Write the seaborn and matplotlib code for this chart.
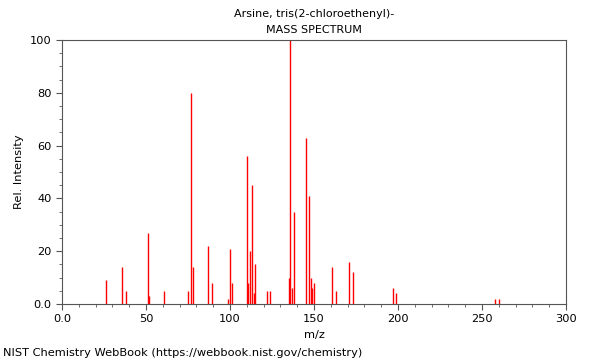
import matplotlib
matplotlib.use("Agg")
import matplotlib.pyplot as plt
from matplotlib.ticker import MultipleLocator
import seaborn as sns

# Espectro de masas (m/z vs intensidad relativa)
mz = [26, 36, 38, 51, 52, 61, 75, 77, 78, 87, 89, 99, 100, 101,
      110, 111, 112, 113, 114, 115, 122, 124, 135, 136, 137, 138,
      145, 147, 148, 149, 150, 161, 163, 171, 173, 197, 199, 258, 260]
intensidad = [9, 14, 5, 27, 3, 5, 5, 80, 14, 22, 8, 2, 21, 8,
              56, 8, 20, 45, 4, 15, 5, 5, 10, 100, 6, 35,
              63, 41, 10, 6, 8, 14, 5, 16, 12, 6, 4, 2, 2]

titulo = "Arsine, tris(2-chloroethenyl)-"
subtitulo = "MASS SPECTRUM"
pie = "NIST Chemistry WebBook (https://webbook.nist.gov/chemistry)"

sns.set_style("ticks")
plt.rcParams["font.family"] = ["DejaVu Sans"]
plt.rcParams["text.color"] = "black"
plt.rcParams["axes.labelcolor"] = "black"
plt.rcParams["xtick.labelcolor"] = "black"
plt.rcParams["ytick.labelcolor"] = "black"

fig = plt.figure(figsize=(6, 3.6), dpi=100)
ax = fig.add_axes([62 / 600, 56 / 360, 504 / 600, 264 / 360])

ax.vlines(mz, 0, intensidad, color="#ff0000", linewidth=1)

ax.set_xlim(0, 300)
ax.set_ylim(0, 100)
ax.xaxis.set_major_locator(MultipleLocator(50))
ax.xaxis.set_minor_locator(MultipleLocator(10))
ax.yaxis.set_major_locator(MultipleLocator(20))
ax.yaxis.set_minor_locator(MultipleLocator(5))
ax.set_xticks([0, 50, 100, 150, 200, 250, 300],
              ["0.0", "50", "100", "150", "200", "250", "300"])
ax.set_yticks([0, 20, 40, 60, 80, 100],
              ["0.0", "20", "40", "60", "80", "100"])
ax.tick_params(which="major", length=4, width=0.8, labelsize=8.2, color="#555555")
ax.tick_params(which="minor", length=2, width=0.6, color="#555555")
for s in ax.spines.values():
    s.set_visible(True)
    s.set_color("#555555")
    s.set_linewidth(0.8)

ax.set_xlabel("m/z", fontsize=8.2)
ax.set_ylabel("Rel. Intensity", fontsize=8.2)

fig.text(314 / 600, 1 - 14 / 360, titulo, ha="center", va="center", fontsize=8)
fig.text(314 / 600, 1 - 30 / 360, subtitulo, ha="center", va="center", fontsize=8)
fig.text(3 / 600, 1 - 353 / 360, pie, ha="left", va="center", fontsize=8.2)

fig.savefig("out.png", dpi=100)
plt.close()
